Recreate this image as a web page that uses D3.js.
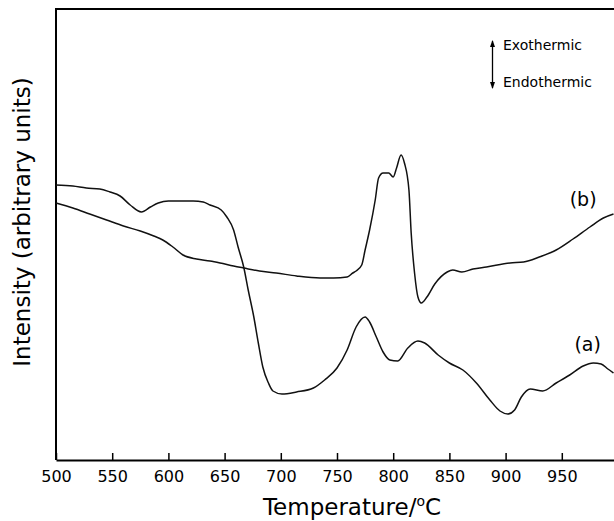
<!DOCTYPE html>
<html>
<head>
<meta charset="utf-8">
<script src="https://cdn.jsdelivr.net/npm/d3@7"></script>
<style>
  html, body { margin: 0; padding: 0; background: #fff; }
  svg { font-family: "DejaVu Sans", Verdana, sans-serif; }
</style>
</head>
<body>
<div id="chart"></div>
<script>
// DTA traces, temperature (°C) vs. signal (arbitrary units)
const tempA = [500, 515, 527, 539, 548, 557, 566, 576, 584, 591, 600, 610, 622, 631, 637,
  647, 652, 658, 662, 667, 671, 676, 680, 684, 689, 693, 701, 714, 729, 739, 750, 759, 767,
  775, 779, 785, 791, 797, 804, 813, 822, 828, 840, 850, 862, 874, 886, 895, 902,
  908, 914, 922, 933, 945, 957, 969, 978, 985, 991, 996];
const valA = [275, 274, 272, 271, 268, 264, 255, 248, 253, 257, 259, 259, 259, 258, 255,
  250, 243, 230, 213, 193, 170, 143, 117, 93, 77, 69, 66, 68, 72, 80, 92, 110, 133,
  143, 138, 123, 108, 100, 99, 112, 119, 117, 105, 97, 90, 77, 60, 49, 46,
  50, 63, 71, 69, 77, 85, 94, 97, 96, 91, 87];

const tempB = [500, 515, 530, 545, 560, 575, 587, 595, 604, 613, 625, 637,
  646, 658, 667, 681, 696, 714, 735, 747, 759, 764,
  767, 772, 775, 779, 784, 787, 791, 796, 800, 803, 807, 810, 814, 816, 819, 822, 825,
  830, 837, 848, 853, 861, 871, 883, 904, 916, 930, 945, 960, 975, 987, 996];
const valB = [257, 252, 246, 240, 234, 229, 224, 220, 213, 205, 201, 199,
  197, 194, 192, 189, 187, 184, 182, 182, 183, 187,
  189, 195, 210, 230, 260, 282, 287, 287, 283, 292, 305, 297, 270, 227, 187, 163, 157,
  163, 176, 188, 190, 188, 191, 193, 197, 198, 203, 210, 221, 233, 242, 246];

const xTicks = [500, 550, 600, 650, 700, 750, 800, 850, 900, 950];

const curveLabels = [
  { text: "(b)", t: 969, v: 254 },
  { text: "(a)", t: 973, v: 109 }
];

(function () {
  const width = 614, height = 521;
  const margin = { top: 9, right: -4, bottom: 61, left: 56 };

  const svg = d3.select("#chart").append("svg")
    .attr("width", width)
    .attr("height", height);

  const x = d3.scaleLinear()
    .domain([500, 1000])
    .range([margin.left, width - margin.right]);
  const y = d3.scaleLinear()
    .domain([0, 451])
    .range([height - margin.bottom, margin.top]);

  // frame: left, top; bottom comes from the axis
  svg.append("line")
    .attr("x1", x(500)).attr("x2", x(500))
    .attr("y1", y(451) - 1).attr("y2", y(0))
    .attr("stroke", "#000").attr("stroke-width", 2);
  svg.append("line")
    .attr("x1", x(500) - 1).attr("x2", x(1000))
    .attr("y1", y(451)).attr("y2", y(451))
    .attr("stroke", "#000").attr("stroke-width", 2);

  const gx = svg.append("g")
    .attr("transform", `translate(0,${y(0)})`)
    .call(d3.axisBottom(x)
      .tickValues(xTicks)
      .tickSizeInner(-7)
      .tickSizeOuter(0)
      .tickPadding(11)
      .tickFormat(d3.format("d")));
  gx.select(".domain").attr("stroke-width", 2);
  gx.selectAll(".tick line").attr("stroke-width", 1.5);
  gx.selectAll(".tick text")
    .attr("fill", "#000")
    .style("font-size", "16px")
    .style("font-family", "\"DejaVu Sans\", Verdana, sans-serif");

  const line = d3.line()
    .x(d => x(d[0]))
    .y(d => y(d[1]))
    .curve(d3.curveMonotoneX);

  const seriesA = tempA.map((t, i) => [t, valA[i]]);
  const seriesB = tempB.map((t, i) => [t, valB[i]]);

  svg.selectAll("path.trace")
    .data([seriesA, seriesB])
    .enter()
    .append("path")
    .attr("class", "trace")
    .attr("d", line)
    .attr("fill", "none")
    .attr("stroke", "#111")
    .attr("stroke-width", 1.5)
    .attr("stroke-linejoin", "round");

  svg.selectAll("text.curve-label")
    .data(curveLabels)
    .enter()
    .append("text")
    .attr("class", "curve-label")
    .attr("x", d => x(d.t))
    .attr("y", d => y(d.v))
    .attr("text-anchor", "middle")
    .style("font-size", "19px")
    .text(d => d.text);

  // exo / endo arrow
  svg.append("defs").html(
    `<marker id="ah" viewBox="0 0 7 5" refX="6" refY="2.5" markerUnits="userSpaceOnUse"
        markerWidth="7" markerHeight="5" orient="auto-start-reverse">
       <path d="M0,0 L7,2.5 L0,5 Z" fill="#000"/>
     </marker>`);
  svg.append("line")
    .attr("x1", 492.5).attr("x2", 492.5)
    .attr("y1", 41).attr("y2", 88)
    .attr("stroke", "#000").attr("stroke-width", 1.3)
    .attr("marker-start", "url(#ah)")
    .attr("marker-end", "url(#ah)");
  svg.append("text")
    .attr("x", 503).attr("y", 50)
    .style("font-size", "14px")
    .text("Exothermic");
  svg.append("text")
    .attr("x", 503).attr("y", 87)
    .style("font-size", "14px")
    .text("Endothermic");

  // axis titles
  const xt = svg.append("text")
    .attr("x", 352).attr("y", 515)
    .attr("text-anchor", "middle")
    .style("font-size", "23px")
    .text("Temperature/");
  xt.append("tspan")
    .attr("dy", -9)
    .style("font-size", "14px")
    .text("o");
  xt.append("tspan")
    .attr("dy", 9)
    .text("C");

  svg.append("text")
    .attr("transform", "translate(30,222) rotate(-90)")
    .attr("text-anchor", "middle")
    .style("font-size", "23px")
    .text("Intensity (arbitrary units)");
}());
</script>
</body>
</html>
